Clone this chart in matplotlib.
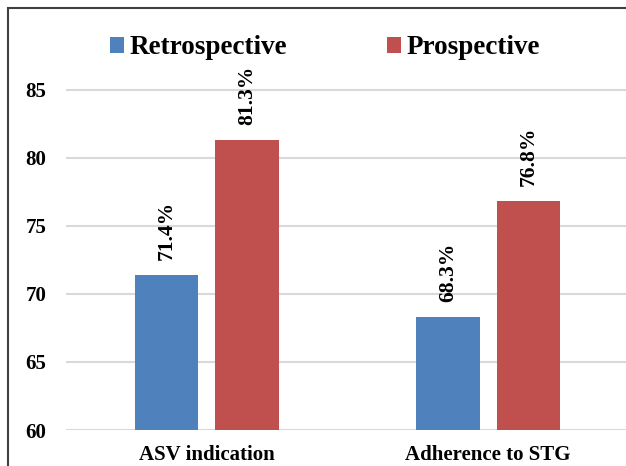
import numpy as np
import matplotlib.pyplot as plt
from matplotlib.patches import Rectangle

categories = ['ASV indication', 'Adherence to STG']
series = ['Retrospective', 'Prospective']
retrospective = [71.4, 68.3]
prospective = [81.3, 76.8]
yticks = [60, 65, 70, 75, 80, 85]

colors = ['#4F81BD', '#C0504D']

plt.rcParams['font.family'] = ['Liberation Serif', 'DejaVu Serif']
plt.rcParams['font.weight'] = 'bold'

W, H = 626, 466
fig = plt.figure(figsize=(W / 100, H / 100), dpi=100)
ax = fig.add_axes([66 / W, 1 - 430 / H, (629 - 66) / W, (430 - 49) / H])

x = np.arange(len(categories))
width = 0.224
offset = 0.143
for vals, name, col, dx in zip([retrospective, prospective], series, colors, [-offset, offset]):
    bars = ax.bar(x + dx, vals, width, color=col, label=name, zorder=2)
    for b, v in zip(bars, vals):
        ax.text(b.get_x() + b.get_width() / 2, v + 1.1, f'{v:.1f}%',
                rotation=90, ha='center', va='bottom', fontsize=15.5, fontweight='bold')

ax.set_xlim(-0.5, 1.5)
ax.set_ylim(60, 88)
ax.set_yticks(yticks)
ax.set_xticks(x)
ax.set_xticklabels(categories, fontsize=15, fontweight='bold')
ax.tick_params(axis='y', length=0, pad=14, labelsize=15)
ax.tick_params(axis='x', length=0, pad=11)
ax.yaxis.grid(True, color='#d9d9d9', linewidth=1.5, zorder=0)
ax.set_axisbelow(True)
for s in ax.spines.values():
    s.set_visible(False)

leg = ax.legend(loc='center', bbox_to_anchor=(325 / W, 1 - 48 / H), bbox_transform=fig.transFigure,
                ncol=2, frameon=False, handlelength=0.5, handleheight=0.5,
                handletextpad=0.2, columnspacing=3.7, prop={'weight': 'bold', 'size': 19.5})

# outer chart border
fig.patches.append(Rectangle((8 / W, -0.1), 2, 1.1 - 8 / H, transform=fig.transFigure,
                             fill=False, edgecolor='#404040', linewidth=1.5))

fig.savefig('out.png', dpi=100)
